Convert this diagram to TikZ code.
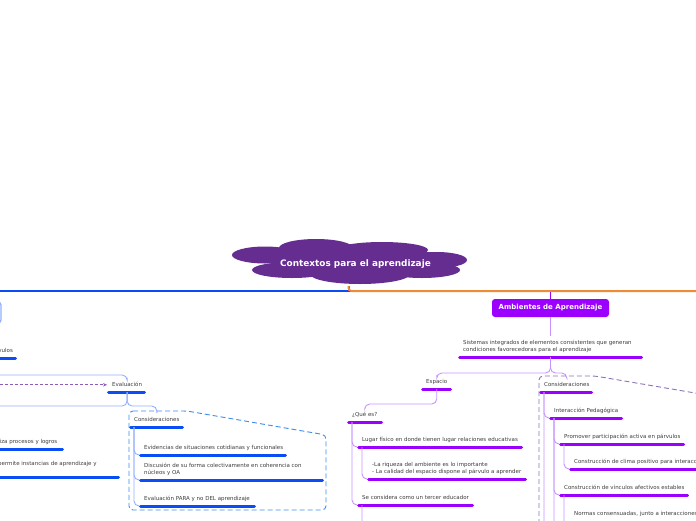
\documentclass[tikz,border=0pt]{standalone}
\usepackage{fontspec}
\setmainfont{DejaVu Sans}
\usetikzlibrary{arrows.meta}

\definecolor{rootviolet}{HTML}{662D91}
\definecolor{ambviolet}{HTML}{9B00FF}
\definecolor{lilac}{HTML}{C792FF}
\definecolor{mainblue}{HTML}{0A4DF5}
\definecolor{paleblue}{HTML}{93AEFF}
\definecolor{dashblue}{HTML}{3A8DEB}
\definecolor{dashviolet}{HTML}{8C74B6}
\definecolor{linkviolet}{HTML}{8D5BB9}
\definecolor{branchorange}{HTML}{EE8C3A}
\definecolor{textgray}{HTML}{3C3C3C}

\tikzset{topic/.style={anchor=south west, inner xsep=5pt, inner ysep=4pt, text depth=1.6pt,
		align=left, text=textgray, font=\fontsize{5.5}{7}\selectfont},
	bar/.style={line width=3pt, line cap=round, shorten <=1.5pt, shorten >=1.5pt},
	bluebar/.style={bar, draw=mainblue},
	violetbar/.style={bar, draw=ambviolet},
	blueconn/.style={draw=paleblue, line width=0.9pt, rounded corners=5pt},
	violetconn/.style={draw=lilac, line width=0.9pt, rounded corners=5pt},
	callout/.style={dash pattern=on 5pt off 3pt, line width=0.9pt, rounded corners=4pt}}

\begin{document}
\begin{tikzpicture}
	[x=1pt, y=-1pt]
	\useasboundingbox (0,0) rectangle (696,520);

	\foreach \cx/\cy/\rx/\ry in {265/255/33/8.5, 316/248/37/9, 382/250/46/8, 437/260/30/8,
			292/270/40/8, 360/274/50/10, 422/270/38/8}
		\fill[rootviolet] (\cx,\cy) ellipse [x radius=\rx, y radius=\ry];
	\fill[rootviolet] (272,252) rectangle (430,272);
	\node [minimum width=234, minimum height=44, text=white,
		font={\fontsize{8.9}{10}\selectfont\bfseries}] (root) at (355.5,264) {Contextos para el aprendizaje};

	\node [fill=ambviolet, rounded corners=3pt, minimum width=117, minimum height=18, text=white,
		font={\fontsize{7}{8}\selectfont\bfseries}] (amb) at (550.5,308) {Ambientes de Aprendizaje};
	\node [draw=paleblue, line width=1.2pt, rounded corners=3pt, minimum width=82, minimum height=21]
		(leftbox) at (-40,312.5) {};

	\node [topic] (sist) at (458,357) {Sistemas integrados de elementos consistentes que generan\\condiciones favorecedoras para el aprendizaje};
	\node [topic] (esp) at (421,389) {Espacio};
	\node [topic] (ambcons) at (539,392) {Consideraciones};
	\node [topic] (quees) at (347,422) {¿Qué es?};
	\node [topic] (lugar) at (357,447) {Lugar físico en donde tienen lugar relaciones educativas};
	\node [topic] (riqueza) at (367,479) {-La riqueza del ambiente es lo importante\\- La calidad del espacio dispone al párvulo a aprender};
	\node [topic] (tercer) at (357,505) {Se considera como un tercer educador};
	\node [topic] (interac) at (549,418) {Interacción Pedagógica};
	\node [topic] (promover) at (559,444) {Promover participación activa en párvulos};
	\node [topic] (clima) at (569,469) {Construcción de clima positivo para interacciones};
	\node [topic] (vinculos) at (559,495) {Construcción de vínculos afectivos estables};
	\node [topic, text depth=8pt] (normas) at (569,528) {Normas consensuadas, junto a interacciones};

	\node [topic] (eval) at (107,392) {Evaluación};
	\node [topic] (evalcons) at (129,427) {Consideraciones};
	\node [topic] (evid) at (139,455) {Evidencias de situaciones cotidianas y funcionales};
	\node [topic] (discus) at (139,480) {Discusión de su forma colectivamente en coherencia con\\núcleos y OA};
	\node [topic] (para) at (139,506) {Evaluación PARA y no DEL aprendizaje};
	\node [topic] (parv) at (-9,358) {rvulos};
	\node [topic] (logros) at (-7,449) {liza procesos y logros};
	\node [topic, text depth=7.5pt] (instancias) at (-7,477) {permite instancias de aprendizaje y};

	\foreach \n/\len in {eval/39, evalcons/55, evid/148, discus/185, para/117, parv/26, logros/71, instancias/127}
		\draw[bluebar] (\n.south west) -- ++(\len,0);
	\foreach \n/\len in {sist/185, esp/31, ambcons/54, quees/36, lugar/166, riqueza/160, tercer/117,
			interac/74, promover/126, clima/140, vinculos/130, normas/150}
		\draw[violetbar] (\n.south west) -- ++(\len,0);

	\coordinate (mainL) at (-10,291);
	\coordinate (mainR) at (710,291);
	\coordinate (hubR) at (550.5,291);
	\draw[mainblue, line width=2pt] ([xshift=-7pt]root.south) |- (mainL);
	\draw[ambviolet, line width=1.6pt] ([xshift=-7pt]root.south) |- (hubR) -- (amb.north);
	\draw[branchorange, line width=2pt, rounded corners=3pt] ([xshift=-7pt]root.south) |- (mainR);

	\draw[violetconn] (amb.south) -- (amb.south |- sist.north);
	\draw[violetconn] (amb.south |- sist.south) -- ++(0,16) -| (esp.north);
	\draw[violetconn] (amb.south |- sist.south) -- ++(0,16) -| (ambcons.north);
	\draw[violetconn] (esp.south) -- ++(0,15) -| (quees.north);
	\foreach \a/\b in {quees/lugar, quees/tercer, lugar/riqueza, ambcons/interac, interac/promover,
			interac/vinculos, promover/clima, vinculos/normas}
		\draw[violetconn] ([xshift=5pt]\a.south west) |- (\b.south west);
	\coordinate (tercerC) at (368,545);
	\coordinate (ambconsC) at (549,560);
	\coordinate (interacC) at (559,560);
	\draw[violetconn] ([xshift=5pt]tercer.south west) |- (tercerC);
	\draw[violetconn] ([xshift=5pt]ambcons.south west) |- (ambconsC);
	\draw[violetconn] ([xshift=5pt]interac.south west) |- (interacC);

	\coordinate (evalP) at (-10,375);
	\coordinate (linkL) at (-10,386);
	\coordinate (evalL) at (-10,406);
	\draw[blueconn] (evalP) -| (eval.north);
	\draw[blueconn] (eval.south) |- (evalL);
	\draw[blueconn] (eval.south) -- ++(0,14) -| (evalcons.north);
	\foreach \b in {evid, discus, para}
		\draw[blueconn] ([xshift=5pt]evalcons.south west) |- (\b.south west);
	\draw[linkviolet, line width=0.9pt, dash pattern=on 3pt off 2pt, -{Stealth[length=4pt, width=3.5pt]}]
		(eval.west -| linkL) -- (eval.west);

	\draw[callout, dashblue] (129,411) -- (187,411) -- (326,435) -- (326,510) -- (129,510) -- cycle;
	\draw[callout, dashviolet] (539,540) -- (539,376) -- (595,376) -- (760,404);
\end{tikzpicture}
\end{document}
